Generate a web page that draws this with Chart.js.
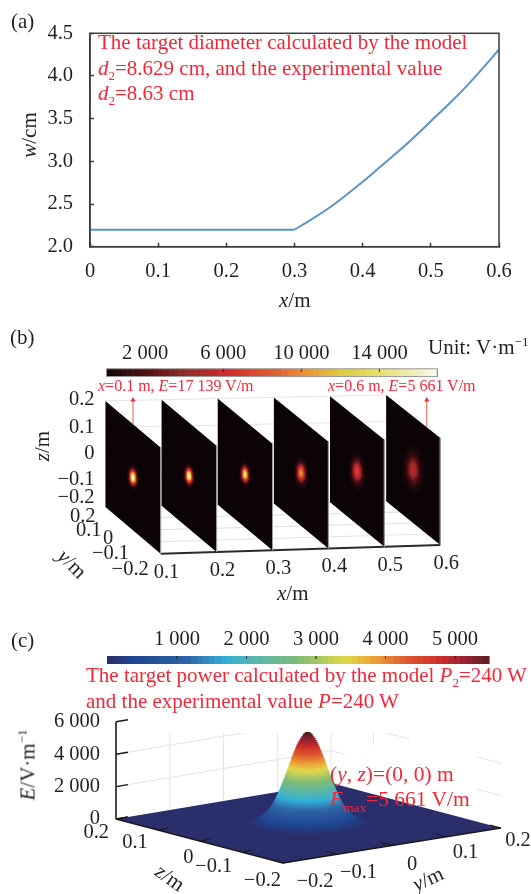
<!DOCTYPE html>
<html>
<head>
<meta charset="utf-8">
<script src="https://cdn.jsdelivr.net/npm/chart.js@4/dist/chart.umd.min.js"></script>
<style>
  html, body { margin: 0; padding: 0; background: #fff; }
  #page { position: relative; width: 531px; height: 894px; overflow: hidden; font-family: "Liberation Serif", serif; color: #231f20; }
  canvas { position: absolute; left: 0; }
  .note { position: absolute; white-space: nowrap; line-height: 1; transform: translateY(-50%); }
  .red { color: #ee2a3a; }
  .turn { transform: translate(-50%, -50%) rotate(var(--a)); }
  sub, sup { font-size: 62%; line-height: 0; }
</style>
</head>
<body>
<div id="page">
  <canvas id="chartA" width="531" height="320" style="top:0"></canvas>
  <canvas id="chartB" width="531" height="300" style="top:320px"></canvas>
  <canvas id="chartC" width="531" height="274" style="top:620px"></canvas>
</div>
<script>
// panel (a): beam radius along x
const waistX = [0, 0.1, 0.2, 0.3];
const waistW = [2.2, 2.2, 2.2, 2.2];
const growthX = [0.3, 0.325, 0.35, 0.375, 0.4, 0.425, 0.45, 0.475, 0.5, 0.525, 0.55, 0.575, 0.6];
const growthW = [2.2, 2.32, 2.45, 2.6, 2.76, 2.93, 3.1, 3.28, 3.47, 3.66, 3.86, 4.08, 4.31];
const ticksAX = [0, 0.1, 0.2, 0.3, 0.4, 0.5, 0.6];
const ticksAY = [2.0, 2.5, 3.0, 3.5, 4.0, 4.5];

// panel (b): field slices
const sliceX = [0.1, 0.2, 0.3, 0.4, 0.5, 0.6];
const slicePeak = [17139, 16300, 14800, 10600, 7600, 5661];
const sliceRadius = [0.024, 0.024, 0.024, 0.03, 0.037, 0.046];
const slicesBarTicks = [2000, 6000, 10000, 14000];
const sliceZTicks = [0.2, 0.1, 0, -0.1, -0.2];
const sliceYTicks = [0.2, 0.1, 0, -0.1, -0.2];
const arrowX = [0.1, 0.6];
const arrowY = [0, -0.1];
const hotValues = [0, 2340, 4000, 6240, 8760, 9900, 11920, 13930, 15950, 16950];
const hotColors = ["#0f0609", "#5a1216", "#8f2b2b", "#d22a2e", "#e0632f", "#ea8a35", "#e0c83e", "#e5e06a", "#f0efc0", "#fbfbf5"];

// beam cross-section: fraction of peak against r / w
const beamFraction = [0.014, 0.02, 0.03, 0.04, 0.05, 0.06, 0.07, 0.08, 0.09, 0.1, 0.12, 0.14, 0.16, 0.18, 0.2, 0.22, 0.24, 0.26, 0.28, 0.3, 0.32, 0.34, 0.36, 0.38, 0.4, 0.42, 0.44, 0.46, 0.48, 0.5, 0.52, 0.54, 0.56, 0.58, 0.6, 0.62, 0.64, 0.66, 0.68, 0.7, 0.72, 0.74, 0.76, 0.78, 0.8, 0.82, 0.84, 0.86, 0.88, 0.9, 0.92, 0.94, 0.96, 0.97, 0.98, 0.99];
const beamRadius = [2.066, 1.978, 1.873, 1.794, 1.731, 1.677, 1.631, 1.589, 1.552, 1.517, 1.456, 1.402, 1.354, 1.309, 1.269, 1.231, 1.195, 1.161, 1.128, 1.097, 1.067, 1.039, 1.011, 0.984, 0.957, 0.931, 0.906, 0.881, 0.857, 0.833, 0.809, 0.785, 0.761, 0.738, 0.715, 0.691, 0.668, 0.645, 0.621, 0.597, 0.573, 0.549, 0.524, 0.498, 0.472, 0.445, 0.418, 0.388, 0.358, 0.325, 0.289, 0.249, 0.202, 0.175, 0.142, 0.1];

// panel (c): target plane
const targetPeak = 5661;
const targetRadius = 0.0415;
const targetBarTicks = [1000, 2000, 3000, 4000, 5000];
const targetETicks = [0, 2000, 4000, 6000];
const targetFloorTicks = [-0.2, -0.1, 0, 0.1, 0.2];
const jetValues = [0, 375, 1150, 1700, 2200, 2730, 3425, 3860, 4290, 4820, 5110, 5500, 5700];
const jetColors = ["#2a2e6b", "#1f4690", "#2e64a8", "#32b0d6", "#5ab7a8", "#7dbb76", "#e2d84a", "#eb9d35", "#df5c30", "#cb2a2b", "#9d2233", "#5c2025", "#45181a"];

const ink = "#231f20";
const gridGrey = "#e4e4e4";
const tickFont = 20.5;
const noteFont = 21;
Chart.defaults.font.family = '"Liberation Serif", serif';
Chart.defaults.font.size = tickFont;
Chart.defaults.color = ink;

const page = document.getElementById("page");

function note(html, left, cy, size, cls) {
  const el = document.createElement("div");
  el.className = "note " + (cls || "");
  el.innerHTML = html;
  el.style.left = left + "px";
  el.style.top = cy + "px";
  el.style.fontSize = size + "px";
  page.appendChild(el);
  return el;
}
function turned(html, cx, cy, size, angle) {
  const el = note(html, cx, cy, size, "turn");
  el.style.setProperty("--a", angle + "deg");
}

function colorAt(values, colors, v) {
  let i = 0;
  while (i < values.length - 2 && v > values[i + 1]) i++;
  const t = Math.max(0, Math.min(1, (v - values[i]) / (values[i + 1] - values[i])));
  const a = parseInt(colors[i].slice(1), 16), b = parseInt(colors[i + 1].slice(1), 16);
  const mix = (s) => Math.round(((a >> s) & 255) * (1 - t) + ((b >> s) & 255) * t);
  return "rgb(" + mix(16) + "," + mix(8) + "," + mix(0) + ")";
}

// line datasets used as drawing primitives on the view scales
const poly = (pts, color) => ({ data: pts.concat([pts[0]]), fill: "shape", backgroundColor: color, borderWidth: 0, pointRadius: 0, tension: 0 });
const stroke = (pts, color, width) => ({ data: pts, fill: false, borderColor: color, borderWidth: width, pointRadius: 0, tension: 0 });

function ellipse(ry, rz, project) {
  const pts = [];
  for (let a = 0; a < 40; a++) {
    const th = a / 40 * Math.PI * 2;
    pts.push(project(ry * Math.cos(th), rz * Math.sin(th)));
  }
  return pts;
}

function colorbar(list, values, colors, x0, x1, yTop, yBot, perValue, zero, ticks) {
  const steps = 64;
  for (let i = 0; i < steps; i++) {
    const a = x0 + (x1 - x0) * i / steps, b = x0 + (x1 - x0) * (i + 1) / steps;
    const v = ((a + b) / 2 - zero) / perValue;
    list.push(poly([{ x: a, y: yTop }, { x: b + 0.6, y: yTop }, { x: b + 0.6, y: yBot }, { x: a, y: yBot }], colorAt(values, colors, v)));
  }
  ticks.forEach((t) => {
    const x = zero + t * perValue;
    list.push(stroke([{ x: x, y: yTop }, { x: x, y: yTop + 3 }], "rgba(40,40,40,0.55)", 1));
  });
}

function viewChart(id, top, height, list, labels) {
  list.forEach((d, i) => { d.order = list.length - i; });
  return new Chart(document.getElementById(id), {
    type: "line",
    data: { datasets: list },
    options: {
      responsive: false,
      animation: false,
      events: [],
      layout: { padding: 0 },
      plugins: { legend: { display: false }, tooltip: { enabled: false } },
      scales: {
        x: { type: "linear", display: false, min: 0, max: 531 },
        y: { type: "linear", display: false, min: top, max: top + height, reverse: true },
      },
    },
    plugins: [{
      id: "labels",
      afterDraw(chart) {
        const { ctx, scales } = chart;
        ctx.save();
        ctx.fillStyle = ink;
        ctx.font = tickFont + 'px "Liberation Serif"';
        ctx.textBaseline = "middle";
        labels.forEach((l) => {
          ctx.textAlign = l.align || "center";
          ctx.fillText(l.text, scales.x.getPixelForValue(l.x), scales.y.getPixelForValue(l.y));
        });
        ctx.restore();
      },
    }],
  });
}

const spaced = (v) => String(v).replace(/(\d)(?=\d{3}$)/, "$1 ");
const signed = (v) => (v === 0 ? "0" : (v < 0 ? "\u2212" : "") + Math.abs(v).toFixed(1));

/* ---------- panel (a) ---------- */
const frame = {
  id: "frame",
  afterDraw(chart) {
    const { ctx, chartArea: c } = chart;
    ctx.save();
    ctx.strokeStyle = "#3c3c3c";
    ctx.lineWidth = 1.5;
    ctx.strokeRect(c.left, c.top, c.right - c.left, c.bottom - c.top);
    ctx.restore();
  },
};
new Chart(document.getElementById("chartA"), {
  type: "line",
  data: {
    datasets: [
      {
        data: waistX.map((x, i) => ({ x: x, y: waistW[i] })),
        borderColor: "#5b93c7",
        borderWidth: 2,
        pointRadius: 0,
      },
      {
        data: growthX.map((x, i) => ({ x: x, y: growthW[i] })),
        borderColor: "#5b93c7",
        borderWidth: 2,
        pointRadius: 0,
        cubicInterpolationMode: "monotone",
      },
    ],
  },
  options: {
    responsive: false,
    animation: false,
    events: [],
    layout: { padding: { top: 22.7, right: 32 } },
    plugins: { legend: { display: false }, tooltip: { enabled: false } },
    scales: {
      x: {
        type: "linear",
        min: 0,
        max: 0.6,
        afterBuildTicks: (s) => { s.ticks = ticksAX.map((v) => ({ value: v })); },
        afterFit: (s) => { s.height = 73.3; },
        grid: { drawOnChartArea: false, tickLength: -4, tickColor: "#3c3c3c", tickWidth: 1.5 },
        border: { color: "#3c3c3c", width: 1.5 },
        ticks: { maxRotation: 0, autoSkip: false, padding: 17, callback: (v) => (v === 0 ? "0" : v.toFixed(1)) },
      },
      y: {
        min: 2,
        max: 4.5,
        afterBuildTicks: (s) => { s.ticks = ticksAY.map((v) => ({ value: v })); },
        afterFit: (s) => { s.width = 90; },
        grid: { drawOnChartArea: false, tickLength: -4, tickColor: "#3c3c3c", tickWidth: 1.5 },
        border: { color: "#3c3c3c", width: 1.5 },
        ticks: { autoSkip: false, padding: 21, callback: (v) => v.toFixed(1) },
      },
    },
  },
  plugins: [frame],
});
note("(a)", 11, 21, 21);
turned("<i>w</i>/cm", 29, 135, 21, -90);
note("<i>x</i>/m", 279, 300, 21);
note("The target diameter calculated by the model", 98, 42, noteFont, "red");
note("<i>d</i><sub>2</sub>=8.629 cm, and the experimental value", 98, 68, noteFont, "red");
note("<i>d</i><sub>2</sub>=8.63 cm", 98, 93, noteFont, "red");

/* ---------- panel (b) ---------- */
// corners of the first and last slice on the page
const sliceNear = { tl: [103, 399], tr: [159, 447], bl: [103, 508], br: [159, 556] };
const sliceFar = { tl: [388, 393], tr: [443, 437], bl: [388, 502], br: [443, 547] };
function projectB(x, y, z) {
  const s = (x - 0.1) / 0.5, t = (0.2 - y) / 0.4, h = (0.2 - z) / 0.4;
  const at = (c) => {
    const top = c.tl.map((v, i) => v + (c.tr[i] - v) * t);
    const bot = c.bl.map((v, i) => v + (c.br[i] - v) * t);
    return top.map((v, i) => v + (bot[i] - v) * h);
  };
  const a = at(sliceNear), b = at(sliceFar);
  return { x: a[0] + (b[0] - a[0]) * s, y: a[1] + (b[1] - a[1]) * s };
}

const setB = [];
const labelsB = [];
colorbar(setB, hotValues, hotColors, 104, 440, 366, 374, 0.01983, 103.6, slicesBarTicks);
setB.push(stroke([{ x: 104, y: 366 }, { x: 440, y: 366 }, { x: 440, y: 374 }, { x: 104, y: 374 }, { x: 104, y: 366 }], "#9a9a9a", 1));
slicesBarTicks.forEach((t) => labelsB.push({ text: spaced(t), x: 103.6 + t * 0.01983, y: 350 }));

sliceZTicks.forEach((z) => setB.push(stroke([projectB(0.1, 0.2, z), projectB(0.6, 0.2, z)], gridGrey, 1)));
[0.1, 0, -0.1].forEach((y) => setB.push(stroke([projectB(0.1, y, -0.2), projectB(0.6, y, -0.2)], gridGrey, 1.2)));
setB.push(stroke([projectB(0.1, -0.2, -0.2), projectB(0.6, -0.2, -0.2)], "#2a2a2a", 2));

sliceX.forEach((x, k) => {
  const onSlice = (y, z) => projectB(x, y, z - 0.3 * y);
  setB.push(poly([projectB(x, 0.2, 0.2), projectB(x, -0.2, 0.2), projectB(x, -0.2, -0.2), projectB(x, 0.2, -0.2)], "#0b0306"));
  setB.push(stroke([projectB(x, -0.2, 0.2), projectB(x, -0.2, -0.2)], "#9a9a9a", 1));
  beamFraction.forEach((f, i) => {
    const r = beamRadius[i] * sliceRadius[k];
    setB.push(poly(ellipse(r * 0.9, r, onSlice), colorAt(hotValues, hotColors, f * slicePeak[k])));
  });
});

arrowX.forEach((x, i) => {
  const b = projectB(x, arrowY[i], 0.2);
  setB.push({
    data: [b, { x: b.x, y: 398 }],
    borderColor: "#e8604c", borderWidth: 1, tension: 0,
    pointStyle: "triangle", pointRadius: [0, 3], pointBackgroundColor: "#e8303f", pointBorderWidth: 0,
  });
});

const zLabelY = [398, 426, 453, 480, 498];
sliceZTicks.forEach((z, i) => labelsB.push({ text: signed(z), x: 92, y: zLabelY[i], align: "right" }));
const yLabelShift = [[-10, 10], [-18, 12], [-20, 9], [-18, 12], [-12, 16]];
sliceYTicks.forEach((y, i) => {
  const p = projectB(0.1, y, -0.2);
  labelsB.push({ text: signed(y), x: p.x + yLabelShift[i][0], y: p.y + yLabelShift[i][1], align: "right" });
});
sliceX.forEach((x) => {
  const p = projectB(x, -0.2, -0.2);
  labelsB.push({ text: x.toFixed(1), x: p.x + 6, y: p.y + 19 });
});
viewChart("chartB", 320, 300, setB, labelsB);

note("(b)", 10, 337, 21);
note("Unit: V·m<sup>−1</sup>", 428, 347, 21);
note("<i>x</i>=0.1 m, <i>E</i>=17 139 V/m", 98, 386, 16, "red");
note("<i>x</i>=0.6 m, <i>E</i>=5 661 V/m", 328, 386, 16, "red");
turned("<i>z</i>/m", 42, 446, 21, -90);
turned("<i>y</i>/m", 72, 564, 21, 45);
note("<i>x</i>/m", 277, 593, 21);

/* ---------- panel (c) ---------- */
const floorCorner = { left: [116, 819], bottom: [283, 863], right: [501, 828], back: [331, 783] };
function projectC(y, z, e) {
  const u = (y + 0.2) / 0.4, v = (0.2 - z) / 0.4, c = floorCorner;
  const px = (i) => (c.left[i] * (1 - u) + c.back[i] * u) * (1 - v) + (c.bottom[i] * (1 - u) + c.right[i] * u) * v;
  return { x: px(0), y: px(1) - (e || 0) * 0.0162 };
}

const setC = [];
const labelsC = [];
colorbar(setC, jetValues, jetColors, 107, 489, 656, 664, 0.0695, 107.5, targetBarTicks);
targetBarTicks.forEach((t) => labelsC.push({ text: spaced(t), x: 107.5 + t * 0.0695, y: 640 }));

// back walls, the page whitens parts of them around the notes
[2000, 4000].forEach((e) => {
  setC.push(stroke([projectC(-0.2, 0.2, e), projectC(0.2, 0.2, e)], gridGrey, 1));
  setC.push(stroke([projectC(0.2, 0.2, e), projectC(0.2, -0.2, e)], gridGrey, 1));
});
[-0.1, 0, 0.1, 0.2].forEach((y) => setC.push(stroke([projectC(y, 0.2, 0), projectC(y, 0.2, 6000)], gridGrey, 1)));
[0.1].forEach((z) => setC.push(stroke([projectC(0.2, z, 0), projectC(0.2, z, 6000)], gridGrey, 1)));
setC.push(poly([{ x: 130, y: 690 }, { x: 531, y: 690 }, { x: 531, y: 733 }, { x: 130, y: 733 }], "#ffffff"));
setC.push(poly([{ x: 410, y: 733 }, { x: 477, y: 733 }, { x: 477, y: 800 }, { x: 410, y: 800 }], "#ffffff"));
setC.push(poly([{ x: 345, y: 745 }, { x: 411, y: 745 }, { x: 411, y: 800 }, { x: 345, y: 800 }], "#ffffff"));

setC.push(poly([projectC(-0.2, 0.2), projectC(-0.2, -0.2), projectC(0.2, -0.2), projectC(0.2, 0.2)], jetColors[0]));
beamFraction.forEach((f, i) => {
  const e = f * targetPeak;
  const r = beamRadius[i] * targetRadius;
  setC.push(poly(ellipse(r, r, (y, z) => projectC(y, z, e)), colorAt(jetValues, jetColors, e)));
});

setC.push(stroke([projectC(-0.2, 0.2), projectC(-0.2, -0.2), projectC(0.2, -0.2)], "#1a1a1a", 1.6));
setC.push(stroke([projectC(-0.2, 0.2), projectC(-0.2, 0.2, 6000)], "#1a1a1a", 1.6));
targetETicks.forEach((e) => {
  const a = projectC(-0.2, 0.2, e);
  setC.push(stroke([a, { x: a.x + 12, y: a.y - 2 }], "#1a1a1a", 1.4));
  labelsC.push({ text: spaced(e), x: 100, y: a.y, align: "right" });
});
const zLabelShift = [[-7, 14], [-10, 13], [-6, 17], [-9, 15], [-2, 18]];
[0.2, 0.1, 0, -0.1, -0.2].forEach((z, i) => {
  const a = projectC(-0.2, z);
  setC.push(stroke([a, { x: a.x + 11, y: a.y - 2 }], "#1a1a1a", 1.2));
  labelsC.push({ text: signed(z), x: a.x + zLabelShift[i][0], y: a.y + zLabelShift[i][1], align: "right" });
});
const yLabelShiftC = [[32, 19], [21, 18], [20, 19], [19, 16], [17, 13]];
targetFloorTicks.forEach((y, i) => {
  const a = projectC(y, -0.2);
  setC.push(stroke([a, { x: a.x - 11, y: a.y - 3 }], "#1a1a1a", 1.2));
  labelsC.push({ text: signed(y), x: a.x + yLabelShiftC[i][0], y: a.y + yLabelShiftC[i][1] });
});
viewChart("chartC", 620, 274, setC, labelsC);

note("(c)", 11, 640, 21);
note("The target power calculated by the model <i>P</i><sub>2</sub>=240 W", 86, 675, noteFont, "red");
note("and the experimental value <i>P</i>=240 W", 86, 701, noteFont, "red");
turned("<i>E</i>/V·m<sup>−1</sup>", 28, 765, 21, -90);
turned("<i>z</i>/m", 170, 878, 21, 35);
turned("<i>y</i>/m", 428, 879, 21, -25);
note("(<i>y</i>, <i>z</i>)=(0, 0) m", 330, 775, 21.5, "red");
note("<i>E</i><sub>max</sub>=5 661 V/m", 330, 800, 21.5, "red");
</script>
</body>
</html>
